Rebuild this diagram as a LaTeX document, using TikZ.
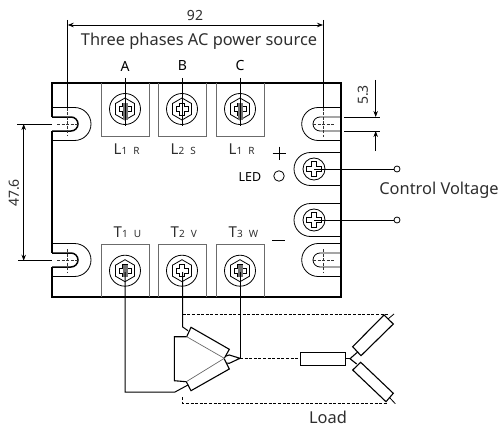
\documentclass[tikz,border=0pt]{standalone}
\usepackage{fontspec}
\setmainfont{Noto Sans}
\usetikzlibrary{arrows.meta, calc}
\definecolor{blockgray}{gray}{0.42}
\definecolor{inkgray}{gray}{0.18}
\tikzset{
  dimline/.style = {black, line width=0.8pt, {Stealth[length=6pt,width=4.5pt]}-{Stealth[length=6pt,width=4.5pt]}},
  dimone/.style = {black, line width=0.8pt, -{Stealth[length=6pt,width=4.5pt]}},
  thinline/.style = {black, line width=0.8pt},
  wire/.style = {black, line width=1pt},
  loadline/.style = {black, line width=1.1pt},
  dashwire/.style = {black, line width=0.9pt, dash pattern=on 3pt off 1.6pt},
  centre/.style = {black!80, line width=0.8pt, dash pattern=on 3pt off 1.5pt},
  body/.style = {black, line width=1.5pt},
  termlabel/.style = {inner sep=0pt, text=inkgray, font=\fontsize{15}{15}\selectfont},
  caption/.style = {inner sep=0pt, text=inkgray, font=\fontsize{16.4}{17}\selectfont},
  dimtext/.style = {inner sep=0pt, text=inkgray, font=\fontsize{14}{14}\selectfont},
  phase/.style = {inner sep=0pt, font=\fontsize{14}{14}\selectfont\bfseries},
  screwhead/.pic = {
    \draw[thinline, fill=white] (0,0) circle (15.5);
    \draw[thinline] (0,-11) -- (9.5,-5.5) -- (9.5,5.5) -- (0,11) -- (-9.5,5.5) -- (-9.5,-5.5) -- cycle;
    \draw[thinline] (-2.6,-6) -- (2.6,-6) -- (2.6,-2.6) -- (6,-2.6) -- (6,2.6) -- (2.6,2.6) -- (2.6,6) -- (-2.6,6) -- (-2.6,2.6) -- (-6,2.6) -- (-6,-2.6) -- (-2.6,-2.6) -- cycle;
  },
  ctrlhead/.pic = {
    \draw[thinline, fill=white] (0,0) circle (11);
    \draw[thinline] (-2.6,-7.3) -- (2.6,-7.3) -- (2.6,-2.6) -- (7.3,-2.6) -- (7.3,2.6) -- (2.6,2.6) -- (2.6,7.3) -- (-2.6,7.3) -- (-2.6,2.6) -- (-7.3,2.6) -- (-7.3,-2.6) -- (-2.6,-2.6) -- cycle;
  },
}
\newcommand{\smallsub}[1]{{\fontsize{10}{10}\selectfont #1}}

\begin{document}
\begin{tikzpicture}[x=1pt, y=-1pt]
\useasboundingbox (0,0) rectangle (501,428);

% case
\draw[body] (52,117.3) -- (52,83) -- (341,83) -- (341,297) -- (52,297) -- (52,267);
\draw[body] (52,131) -- (52,253);
\foreach \yy in {124, 260} {
  \draw[thinline] (52,\yy-16.5) -- (74.5,\yy-16.5) arc (-90:90:16.5) -- (52,\yy+16.5);
  \draw[body] (52,\yy-7) -- (71,\yy-7) arc (-90:90:7) -- (52,\yy+7);
  \draw[centre] (57,\yy) -- (78,\yy);
  \draw[thinline] (341,\yy-16.5) -- (318.2,\yy-16.5) arc (270:90:16.5) -- (341,\yy+16.5);
  \draw[thinline] (341,\yy-7) -- (320,\yy-7) arc (270:90:7) -- (341,\yy+7);
  \draw[centre] (313,\yy) -- (334,\yy);
}
\draw[centre] (67.7,107.5) -- (67.7,135);
\draw[centre] (67.7,249) -- (67.7,272);
\draw[centre] (323,107.5) -- (323,137);
\draw[centre] (323,249) -- (323,272);

% terminal blocks
\foreach \xx/\nn/\aa/\tt/\uu in {101/1/R/1/U, 158/2/S/2/V, 216/1/R/3/W} {
  \draw[blockgray, line width=1pt] (\xx,83) -- (\xx,136) -- (\xx+48,136) -- (\xx+48,83);
  \draw[blockgray, line width=1pt] (\xx,297) -- (\xx,244.3) -- (\xx+48,244.3) -- (\xx+48,297);
  \pic at (\xx+24,109) {screwhead};
  \pic at (\xx+24,270.7) {screwhead};
  \node[termlabel, anchor=base west] (inlbl\tt) at (\xx+12.5,154) {L\smallsub{\nn}\hspace{6pt}\smallsub{\aa}};
  \node[termlabel, anchor=base west] (outlbl\tt) at (\xx+12.5,237) {T\smallsub{\tt}\hspace{6pt}\smallsub{\uu}};
}
\foreach \xx in {125, 240} {
  \fill[black!55] (\xx-2.5,103) rectangle (\xx+2.5,120);
  \fill[black!55] (\xx-2.5,265) rectangle (\xx+2.5,277);
}

\node[phase] (phaseA) at (125,66) {A};
\node[phase] (phaseB) at (182.5,66) {B};
\node[phase] (phaseC) at (240,66) {C};
\coordinate (screwA) at (125,126);
\coordinate (screwB) at (182.5,126);
\coordinate (screwC) at (240,126);
\draw[wire] (125,78) -- (screwA);
\draw[wire] (182.5,78) -- (screwB);
\draw[wire] (240,78) -- (screwC);

% dimensions
\node[dimtext] (width) at (195,16) {92};
\node[caption] (source) at (199,41) {Three phases AC power source};
\coordinate (leftend) at (67.7,25);
\coordinate (rightend) at (323,25);
\draw[thinline] (67.7,20) -- (67.7,107.5);
\draw[thinline] (323,20) -- (323,107.5);
\draw[dimline] (leftend) -- (rightend);

\draw[thinline] (17,124) -- (52,124);
\draw[thinline] (18,260.7) -- (52,260.7);
\coordinate (pitchtop) at (23.7,124);
\coordinate (pitchbot) at (23.7,260.7);
\draw[dimline] (pitchtop) -- (pitchbot);
\node[dimtext, rotate=90] (pitch) at (14,193) {47.6};

\draw[thinline] (344.3,117) -- (380,117);
\draw[thinline] (344.3,131) -- (380,131);
\coordinate (slottop) at (375.7,117);
\coordinate (slotbot) at (375.7,131);
\draw[dimone] (375.7,80) -- (slottop);
\draw[dimone] (375.7,151) -- (slotbot);
\node[dimtext, rotate=90] (slot) at (363,95) {5.3};

% control side
\node[phase, font=\fontsize{12.5}{13}\selectfont\bfseries] (led) at (250,177) {LED};
\node[draw, thinline, circle, minimum size=10.5pt, inner sep=0pt] (ledlamp) at (279,176) {};
\draw[thinline] (272.5,153) -- (285.5,153);
\draw[thinline] (279,146.5) -- (279,159.5);
\draw[thinline] (272,240) -- (285,240);
\node[caption] (control) at (439,190.5) {Control Voltage};
\foreach \yy/\nn in {169/plus, 220/minus} {
  \draw[thinline] (341,\yy-16.5) -- (310.5,\yy-16.5) arc (270:90:16.5) -- (341,\yy+16.5);
  \pic at (314,\yy) {ctrlhead};
  \node[draw, thinline, circle, minimum size=6pt, inner sep=0pt] (\nn) at (397,\yy) {};
  \draw[thinline] (314,\yy) -- (\nn);
}

% delta winding
\coordinate (deltaleft) at (182.7,327);
\draw[wire] (125,272) -- (125,392) -- (175,392) -- (188,385);
\draw[wire] (182.5,272) -- (deltaleft) -- (188,330.7);
\draw[wire] (240,272) -- (240,358.3);
\draw[dashwire] (182.7,314.3) -- (388,314.3);
\draw[dashwire] (182.7,397) -- (182.7,403) -- (388,403);
\draw[dashwire] (240,358.7) -- (300.7,358.7);
\draw[loadline] (186.7,336.7) -- (191,327.3) -- (229.3,349.3) -- (224.3,358.3);
\draw[loadline] (224.3,359) -- (229.3,369) -- (191,390.7) -- (186.3,381.7);
\draw[blockgray, line width=0.7pt] (186.7,336.7) -- (224.3,358.3) -- (186.3,381.7);
\draw[loadline] (186.7,336.7) -- (174.3,336.7) -- (174.3,380.7) -- (186.3,381.7);
\draw[loadline] (226,356) -- (229.3,355) -- (240,358.3) -- (229.3,363.3) -- (226.5,363);

% load
\draw[loadline] (300.7,352.3) rectangle (345.7,365.7);
\draw[loadline] (345.7,358.7) -- (350,358.7);
\draw[loadline] (358,351.7) -- (350,358.7) -- (356.7,364);
\draw[loadline] (352.7,346.7) -- (384,315) -- (393.3,324) -- (361,355.7) -- cycle;
\draw[loadline] (360.7,362.3) -- (393.3,393.3) -- (386,401.7) -- (352.7,370) -- cycle;
\draw[thinline] (388,319) -- (394,314);
\draw[thinline] (389.5,397.5) -- (395.3,403.7);
\node[caption] (load) at (328,417.5) {Load};
\end{tikzpicture}
\end{document}
